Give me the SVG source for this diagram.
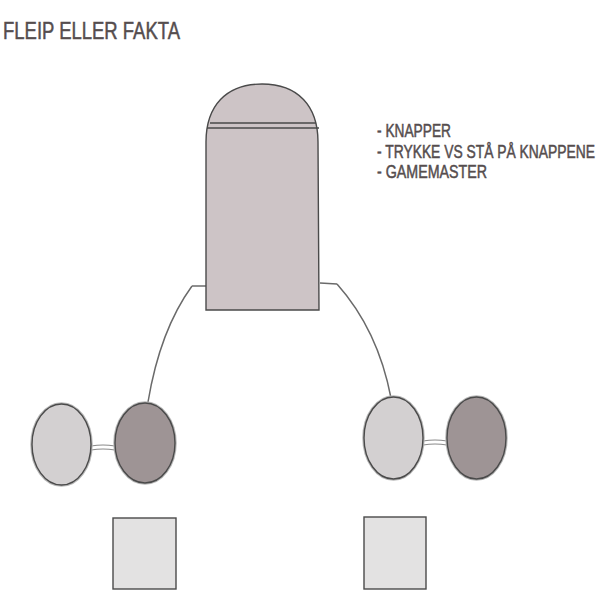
<svg xmlns="http://www.w3.org/2000/svg" width="600" height="600" viewBox="0 0 600 600">
<style>
  .txt { font-family: "Liberation Sans", "DejaVu Sans", sans-serif; fill: #554d4e; stroke: #554d4e; stroke-width: 0.5; }
  .outline { stroke: #4a4a4a; stroke-width: 1.4; }
  .halo { fill: none; stroke: #b8b8b8; stroke-width: 3.5; }
  .light { fill: #d3d0d1; }
  .dark { fill: #9e9495; }
  .box { fill: #e3e2e2; }
  .conn { fill: none; stroke: #6a6a6a; stroke-width: 1.5; }
  .bridge { fill: none; stroke: #8a8a8a; stroke-width: 1.2; }
</style>
<rect width="600" height="600" fill="#ffffff"/>
<text class="txt" x="3" y="39" font-size="24" textLength="177" lengthAdjust="spacingAndGlyphs">FLEIP ELLER FAKTA</text>
<g id="notes">
  <text class="txt" x="377" y="137" font-size="18" textLength="74" lengthAdjust="spacingAndGlyphs">- KNAPPER</text>
  <text class="txt" x="377" y="158" font-size="18" textLength="218" lengthAdjust="spacingAndGlyphs">- TRYKKE VS STÅ PÅ KNAPPENE</text>
  <text class="txt" x="377" y="178" font-size="18" textLength="110" lengthAdjust="spacingAndGlyphs">- GAMEMASTER</text>
</g>
<g id="connectors">
  <path class="conn" d="M192,286 L207,286"/>
  <path class="conn" d="M192,286 Q160,330 148,402"/>
  <path class="conn" d="M320,283 L337,284"/>
  <path class="conn" d="M337,284 Q378,330 391,398"/>
  <path class="bridge" d="M91,446 Q103,444 115,446 M91,450 Q103,448 115,450"/>
  <path class="bridge" d="M423,441 Q435,439 447,441 M423,445 Q435,443 447,445"/>
</g>
<g id="tower">
  <path class="outline" fill="#cdc4c6" d="M206,310 L206,142 C206,106 226,84 262,84 C298,84 318,106 318,142 L319,310 Z"/>
  <path fill="none" stroke="#4a4a4a" stroke-width="1.4" d="M210,123 L316,123 M207,128 L319,128"/>
</g>
<g id="left-light">
  <ellipse class="halo" cx="61.5" cy="444.5" rx="29.5" ry="40.5"/>
  <ellipse class="light outline" cx="61.5" cy="444.5" rx="29.5" ry="40.5"/>
</g>
<g id="left-dark">
  <ellipse class="halo" cx="145" cy="443" rx="30" ry="40"/>
  <ellipse class="dark outline" cx="145" cy="443" rx="30" ry="40"/>
</g>
<g id="right-light">
  <ellipse class="halo" cx="393.5" cy="438" rx="29.5" ry="41"/>
  <ellipse class="light outline" cx="393.5" cy="438" rx="29.5" ry="41"/>
</g>
<g id="right-dark">
  <ellipse class="halo" cx="476.5" cy="438" rx="29.5" ry="41"/>
  <ellipse class="dark outline" cx="476.5" cy="438" rx="29.5" ry="41"/>
</g>
<g id="left-box">
  <rect class="box outline" x="113" y="518" width="63" height="71"/>
</g>
<g id="right-box">
  <rect class="box outline" x="364" y="517" width="62" height="72"/>
</g>
</svg>
